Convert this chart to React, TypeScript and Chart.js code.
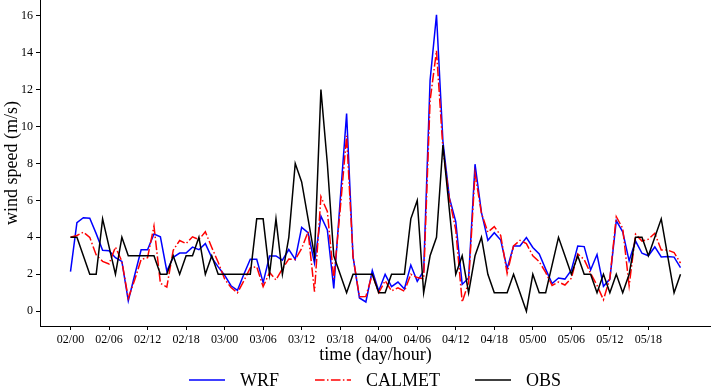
import React, { useEffect, useRef } from 'react';
import { Chart, registerables } from 'chart.js';

Chart.register(...registerables);

// hourly wind speed, 02/00 .. 05/23
const wrf = [
  2.14, 4.79, 5.06, 5.03, 4.2, 3.3, 3.27, 2.9, 2.7, 0.57, 1.96, 3.33,
  3.33, 4.18, 4.03, 2.18, 2.92, 3.15, 3.15, 3.47, 3.33, 3.66, 2.9, 2.4,
  1.95, 1.38, 1.13, 2.0, 2.81, 2.81, 1.55, 2.99, 2.99, 2.76, 3.34, 2.81,
  4.54, 4.25, 2.6, 5.15, 4.4, 1.24, 6.0, 10.7, 2.95, 0.72, 0.5, 2.2,
  1.1, 2.0, 1.33, 1.58, 1.2, 2.5, 1.62, 2.18, 12.5, 16.05, 9.2, 6.15,
  4.85, 1.45, 1.8, 7.96, 5.35, 3.84, 4.25, 3.85, 2.3, 3.53, 3.53, 3.99,
  3.45, 3.1, 2.28, 1.5, 1.8, 1.74, 2.22, 3.53, 3.5, 2.23, 3.07, 1.35,
  1.74, 4.9, 4.3, 2.73, 3.8, 3.14, 3.0, 3.48, 2.94, 2.96, 2.93, 2.36,
];

const calmet = [
  4.0, 4.1, 4.28, 4.0, 3.05, 2.7, 2.56, 3.48, 2.7, 0.7, 1.7, 2.8,
  2.9, 4.61, 1.51, 1.31, 3.3, 3.83, 3.66, 4.03, 3.88, 4.3, 3.45, 2.65,
  1.75, 1.28, 1.0, 1.65, 2.35, 2.41, 1.33, 2.1, 1.69, 2.3, 2.83, 2.8,
  3.4, 4.3, 1.06, 6.2, 5.4, 1.75, 5.5, 9.5, 2.95, 0.78, 0.8, 2.0,
  1.0, 1.65, 1.1, 1.27, 1.08, 2.0, 1.82, 1.75, 11.4, 14.1, 8.8, 6.1,
  4.4, 0.5, 1.55, 7.46, 5.3, 4.28, 4.58, 4.1, 2.05, 3.53, 3.84, 3.66,
  3.0, 2.68, 2.1, 1.4, 1.58, 1.42, 1.78, 3.1, 2.8, 2.05, 1.4, 0.62,
  1.78, 5.12, 4.48, 1.38, 4.17, 3.8, 3.9, 4.22, 3.31, 3.31, 3.18, 2.6,
];

const obs = [
  4, 4, 3, 2, 2, 5, 3.5, 2, 4, 3, 3, 3,
  3, 3, 2, 2, 3, 2, 3, 3, 4, 2, 3, 2,
  2, 2, 2, 2, 2, 5, 5, 2, 5, 2, 4, 8,
  7, 5, 3, 12, 8, 3, 2, 1, 2, 2, 2, 2,
  1, 1, 2, 2, 2, 5, 6, 1, 3, 4, 9, 5.5,
  2, 3, 1, 3, 4, 2, 1, 1, 1, 2, 1, 0,
  2, 1, 1, 2.5, 4, 3, 2, 3, 2, 2, 1, 2,
  1, 2, 1, 2, 4, 4, 3, 4, 5, 3, 1, 2,
];

const tickHours = [0, 6, 12, 18, 24, 30, 36, 42, 48, 54, 60, 66, 72, 78, 84, 90];
const tickLabels = [
  '02/00', '02/06', '02/12', '02/18', '03/00', '03/06', '03/12', '03/18',
  '04/00', '04/06', '04/12', '04/18', '05/00', '05/06', '05/12', '05/18',
];
const yTicks = [0, 2, 4, 6, 8, 10, 12, 14, 16];

const seriesNames = ['WRF', 'CALMET', 'OBS'];
const seriesColors = ['#0000ff', '#ff0000', '#000000'];
const dashDot = [9.6, 2.4, 1.5, 2.4];

const FONT = "'Liberation Serif', 'Times New Roman', serif";

const toPoints = (arr: number[]) => arr.map((v, i) => ({ x: i, y: v }));

const legendPlugin = {
  id: 'bottomLegend',
  afterDraw(chart: any) {
    const ctx = chart.ctx as CanvasRenderingContext2D;
    const items = [
      { line: [189, 225], text: 240, dash: [] as number[] },
      { line: [315, 351], text: 366, dash: dashDot },
      { line: [475, 511], text: 526, dash: [] as number[] },
    ];
    const y = 380;
    ctx.save();
    items.forEach((it, i) => {
      ctx.beginPath();
      ctx.setLineDash(it.dash);
      ctx.lineWidth = 1.5;
      ctx.strokeStyle = seriesColors[i];
      ctx.moveTo(it.line[0], y);
      ctx.lineTo(it.line[1], y);
      ctx.stroke();
      ctx.setLineDash([]);
      ctx.fillStyle = '#000';
      ctx.font = `18px ${FONT}`;
      ctx.textBaseline = 'middle';
      ctx.textAlign = 'left';
      ctx.fillText(seriesNames[i], it.text, y + 1);
    });
    ctx.restore();
  },
};

export default function App() {
  const ref = useRef<HTMLCanvasElement | null>(null);

  useEffect(() => {
    document.body.style.margin = '0';
    if (!ref.current) return;
    const chart = new Chart(ref.current, {
      type: 'line',
      data: {
        datasets: [
          {
            label: seriesNames[0],
            data: toPoints(wrf),
            borderColor: seriesColors[0],
            borderWidth: 1.5,
            pointRadius: 0,
            tension: 0,
            fill: false,
            order: 2,
          },
          {
            label: seriesNames[1],
            data: toPoints(calmet),
            borderColor: seriesColors[1],
            borderWidth: 1.5,
            borderDash: dashDot,
            pointRadius: 0,
            tension: 0,
            fill: false,
            order: 1,
          },
          {
            label: seriesNames[2],
            data: toPoints(obs),
            borderColor: seriesColors[2],
            borderWidth: 1.5,
            pointRadius: 0,
            tension: 0,
            fill: false,
            order: 0,
          },
        ],
      },
      options: {
        animation: false,
        responsive: false,
        events: [],
        layout: { padding: { left: 0, right: 0, top: 0, bottom: 22 } },
        plugins: {
          legend: { display: false },
          tooltip: { enabled: false },
        },
        scales: {
          x: {
            type: 'linear',
            min: -4.75,
            max: 99.75,
            afterBuildTicks: (s: any) => {
              s.ticks = tickHours.map((v) => ({ value: v }));
            },
            afterFit: (s: any) => {
              s.height = 40;
              s.paddingLeft = 0;
              s.paddingRight = 0;
            },
            ticks: {
              autoSkip: false,
              maxRotation: 0,
              padding: 3,
              color: '#000',
              font: { family: FONT, size: 12 },
              callback: (v: any) => {
                const idx = tickHours.indexOf(Number(v));
                return idx >= 0 ? tickLabels[idx] : '';
              },
            },
            grid: {
              drawOnChartArea: false,
              drawTicks: true,
              tickLength: 4,
              tickColor: '#000',
              tickWidth: 1,
            },
            border: { display: true, color: '#000', width: 1 },
            title: {
              display: true,
              text: 'time (day/hour)',
              color: '#000',
              font: { family: FONT, size: 18 },
              padding: { top: 0, bottom: 0 },
            },
          },
          y: {
            type: 'linear',
            min: -0.8,
            max: 16.85,
            afterBuildTicks: (s: any) => {
              s.ticks = yTicks.map((v) => ({ value: v }));
            },
            afterFit: (s: any) => {
              s.width = 40;
              s.paddingTop = 0;
              s.paddingBottom = 0;
            },
            ticks: {
              autoSkip: false,
              padding: 3,
              color: '#000',
              font: { family: FONT, size: 12 },
              callback: (v: any) => String(v),
            },
            grid: {
              drawOnChartArea: false,
              drawTicks: true,
              tickLength: 4,
              tickColor: '#000',
              tickWidth: 1,
            },
            border: { display: true, color: '#000', width: 1 },
            title: {
              display: true,
              text: 'wind speed (m/s)',
              color: '#000',
              font: { family: FONT, size: 18 },
              padding: { top: 1, bottom: 0 },
            },
          },
        },
      },
      plugins: [legendPlugin],
    });
    return () => chart.destroy();
  }, []);

  return (
    <div style={{ width: 711, height: 388 }}>
      <canvas ref={ref} width={711} height={388} style={{ display: 'block' }} />
    </div>
  );
}
